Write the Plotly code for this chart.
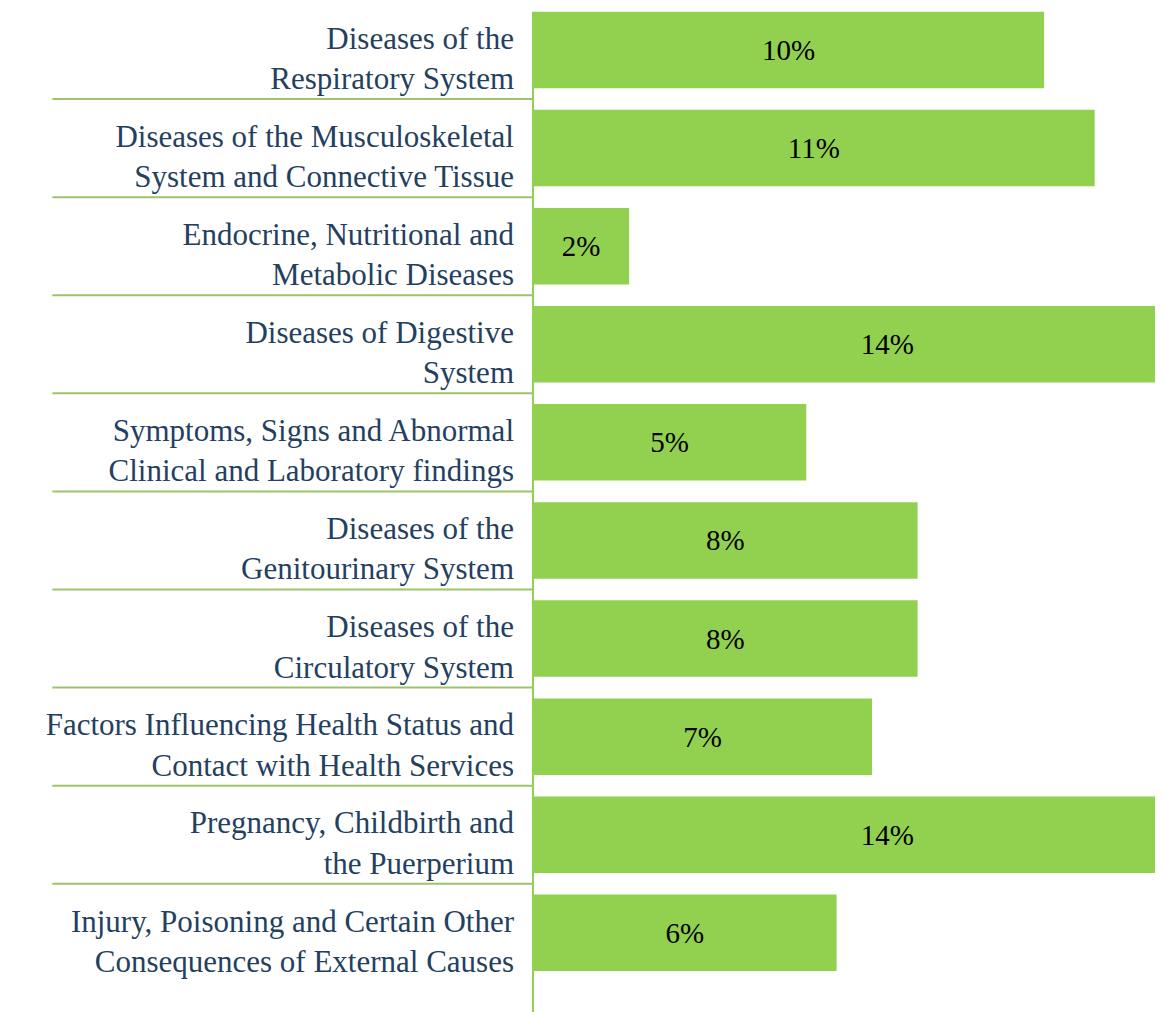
import plotly.graph_objects as go

# 진단 분류별 비중 (%)
categories = [
    "Diseases of the<br>Respiratory System",
    "Diseases of the Musculoskeletal<br>System and Connective Tissue",
    "Endocrine, Nutritional and<br>Metabolic Diseases",
    "Diseases of Digestive<br>System",
    "Symptoms, Signs and Abnormal<br>Clinical and Laboratory findings",
    "Diseases of the<br>Genitourinary System",
    "Diseases of the<br>Circulatory System",
    "Factors Influencing Health Status and<br>Contact with Health Services",
    "Pregnancy, Childbirth and<br>the Puerperium",
    "Injury, Poisoning and Certain Other<br>Consequences of External Causes",
]
shares = [10.1, 11.1, 1.9, 14.0, 5.4, 7.6, 7.6, 6.7, 14.0, 6.0]

BAR_GREEN = "#92D050"
TEXT_BLUE = "#243F60"
SERIF = "Liberation Serif, Times New Roman, serif"

fig = go.Figure()

fig.add_trace(go.Bar(
    y=categories,
    x=shares,
    orientation='h',
    marker=dict(color=BAR_GREEN, line=dict(width=0)),
    width=0.78,
    texttemplate='%{x:.0f}%',
    textposition='inside',
    insidetextanchor='middle',
    textfont=dict(family=SERIF, size=29, color="black"),
    cliponaxis=True,
))

# 범주 사이 구분선
for i in range(len(categories) - 1):
    fig.add_shape(
        type="line", xref="paper", yref="y",
        x0=-0.763, x1=0, y0=i + 0.5, y1=i + 0.5,
        line=dict(color="#9DC46A", width=2),
    )

# 세로 축선
fig.add_shape(
    type="line", xref="paper", yref="paper",
    x0=0, x1=0, y0=0, y1=0.996,
    line=dict(color=BAR_GREEN, width=2),
)

fig.update_layout(
    width=1155,
    height=1004,
    margin=dict(l=525, r=0, t=0, b=0),
    plot_bgcolor='white',
    paper_bgcolor='white',
    showlegend=False,
    font=dict(family=SERIF),
    uniformtext=dict(mode=False),
)

fig.update_xaxes(
    range=[0, 12.45],
    visible=False,
    showgrid=False,
    zeroline=False,
)

fig.update_yaxes(
    type='category',
    range=[9.807, -0.428],
    showgrid=False,
    zeroline=False,
    showline=False,
    ticks="",
    ticklabelstandoff=18,
    ticklabelshift=-8,
    tickfont=dict(family=SERIF, size=31, color=TEXT_BLUE),
)

fig.write_html("out.html")
